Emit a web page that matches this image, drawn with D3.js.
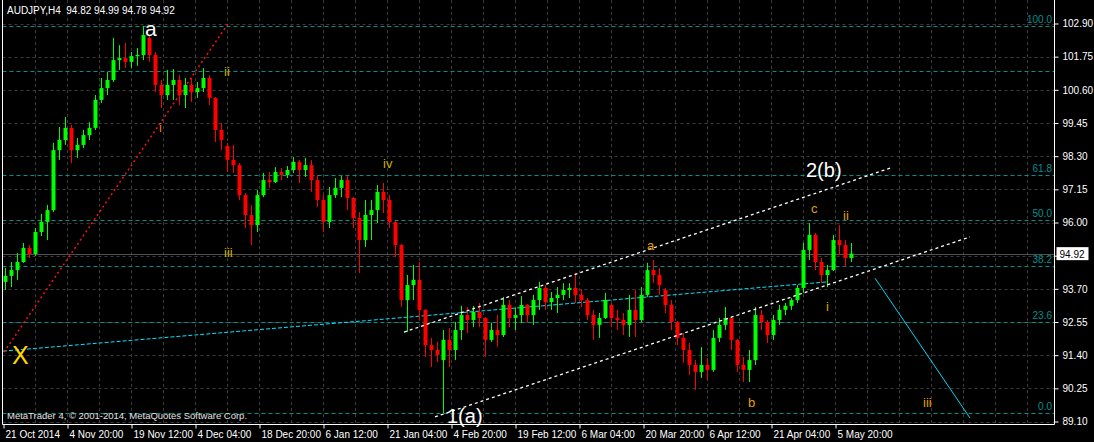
<!DOCTYPE html>
<html><head><meta charset="utf-8">
<script src="https://cdn.jsdelivr.net/npm/d3@7/dist/d3.min.js"></script>
<style>
html,body{margin:0;padding:0;background:#000;}
svg{display:block;}
text{font-family:"Liberation Sans",Arial,sans-serif;}
</style></head>
<body>
<svg id="c" width="1094" height="442"></svg>
<script>
// ---- DATA (one candle per trading day, 6 H4 bars) ----
const opens = [93.94,94.15,94.35,94.63,95.12,94.91,95.67,96.02,96.43,98.51,98.86,99.28,98.51,98.69,99.03,99.28,100.25,100.66,100.94,101.63,101.70,101.57,101.77,101.81,102.40,101.81,100.77,100.42,100.77,100.94,100.42,100.77,100.52,100.66,101.01,100.32,99.21,98.65,98.17,97.99,96.95,96.26,95.91,96.95,97.47,97.40,97.75,97.65,97.82,98.10,97.82,97.99,97.47,96.78,96.02,96.95,97.20,97.47,96.85,96.16,95.39,96.26,96.43,97.06,96.78,96.02,95.22,93.31,93.83,94.01,92.97,91.75,91.58,91.23,91.93,91.58,92.27,92.79,92.62,92.90,92.69,91.93,92.27,92.10,93.14,92.69,92.79,93.14,92.79,93.31,93.73,93.24,93.38,93.49,93.66,93.73,93.49,93.31,92.79,92.45,92.69,93.14,92.69,92.62,92.45,92.97,92.62,93.49,94.35,94.18,93.66,93.14,92.55,92.00,91.58,91.06,90.82,91.06,90.89,92.00,92.45,92.69,91.93,91.06,90.89,91.23,92.79,92.55,92.10,92.62,92.97,93.11,93.31,93.73,95.05,95.57,94.63,94.18,94.35,95.39,95.22,94.77];
const highs = [94.42,94.63,94.94,95.29,95.22,95.81,96.30,96.61,98.76,99.31,99.66,99.38,98.93,99.21,99.48,100.42,101.01,101.22,102.40,102.15,102.22,101.91,102.05,102.81,102.47,101.91,100.94,101.29,101.32,101.11,101.01,101.01,100.87,101.36,101.11,100.35,99.45,98.76,98.69,98.06,97.02,96.61,97.13,97.72,97.75,97.92,97.89,97.96,98.27,98.17,98.24,98.17,97.65,96.95,97.23,97.54,97.61,97.61,96.88,96.36,96.78,96.78,97.30,97.37,96.95,96.05,95.25,94.18,94.53,94.63,93.00,92.00,91.86,92.27,92.34,92.55,93.11,93.07,93.11,93.21,92.72,92.52,92.79,93.42,93.31,93.04,93.45,93.17,93.49,93.94,93.83,93.59,93.76,93.90,93.90,94.25,93.69,93.38,92.97,92.86,93.56,93.21,92.97,92.86,93.49,93.66,93.76,94.60,94.70,94.42,93.73,93.31,92.58,92.17,91.82,91.23,91.68,91.30,92.27,92.69,93.07,92.72,91.96,91.34,91.58,93.07,92.97,92.62,92.79,93.14,93.21,93.38,93.83,95.29,95.98,95.64,94.77,94.53,95.57,95.91,95.39,95.29];
const lows = [93.66,93.76,94.01,94.60,94.77,94.84,95.53,95.39,96.36,98.17,98.69,98.06,98.24,98.58,98.86,99.21,100.14,100.42,100.87,101.29,101.36,101.36,101.43,101.63,101.57,100.52,99.97,100.25,100.25,100.07,99.97,100.18,100.32,100.52,100.07,98.79,98.51,97.75,97.72,96.78,95.81,95.22,95.67,96.88,97.20,97.37,97.47,97.54,97.72,97.37,97.58,97.06,96.54,95.67,95.81,96.85,96.88,96.43,95.81,94.25,95.15,95.39,95.98,96.33,95.81,94.80,93.07,92.20,93.31,92.62,91.34,90.99,91.16,89.39,90.99,91.23,91.93,92.17,92.37,92.37,91.34,91.86,91.68,92.03,92.37,92.27,92.52,92.55,92.45,92.97,92.97,92.97,92.86,93.31,93.38,93.21,93.07,92.62,91.93,92.00,92.66,92.37,92.27,92.10,92.03,92.03,92.55,93.42,93.90,93.49,92.86,92.27,91.75,91.13,90.71,90.19,90.61,90.54,90.82,91.86,92.27,91.58,90.82,90.47,90.47,91.06,92.27,91.82,91.93,92.45,92.79,92.97,93.21,93.56,94.70,94.35,93.90,93.76,94.32,94.87,94.46,94.63];
const closes = [94.15,94.35,94.63,95.12,94.91,95.67,96.02,96.43,98.51,98.86,99.28,98.51,98.69,99.03,99.28,100.25,100.66,100.94,101.63,101.70,101.57,101.77,101.81,102.50,101.81,100.77,100.42,100.77,100.94,100.42,100.77,100.52,100.66,101.01,100.32,99.21,98.86,98.17,97.99,96.95,96.26,95.91,96.95,97.47,97.40,97.75,97.65,97.82,98.10,97.82,97.99,97.47,96.78,96.02,96.95,97.20,97.47,96.85,96.16,95.39,96.26,96.43,97.06,96.78,96.02,95.22,93.31,93.83,94.01,92.97,91.75,91.58,91.41,91.93,91.58,92.27,92.79,92.62,92.90,92.69,91.93,92.27,92.10,93.14,92.69,92.79,93.14,92.79,93.31,93.73,93.24,93.38,93.49,93.66,93.73,93.49,93.31,92.79,92.45,92.69,93.31,92.69,92.62,92.45,92.97,92.62,93.49,94.35,94.18,93.83,93.14,92.55,92.00,91.58,91.06,90.82,91.06,90.89,92.00,92.45,92.69,91.93,91.06,90.89,91.23,92.79,92.55,92.10,92.62,92.97,93.11,93.31,93.73,95.05,95.57,94.63,94.18,94.35,95.39,95.22,94.77,94.92];

// x-axis labels (every 64 H4 bars)
const timeLabels = ["21 Oct 2014","4 Nov 20:00","19 Nov 12:00","4 Dec 04:00","18 Dec 20:00","6 Jan 12:00","21 Jan 04:00","4 Feb 20:00","19 Feb 12:00","6 Mar 04:00","20 Mar 20:00","6 Apr 12:00","21 Apr 04:00","5 May 20:00"];
// price tick labels
const priceTicks = [89.10,90.25,91.40,92.55,93.70,94.85,96.00,97.15,98.30,99.45,100.60,101.75,102.90];
const hiddenTick = 94.85; // covered by the current-price marker
// Fibonacci retracement levels
const fibNames = ["100.0","61.8","50.0","38.2","23.6","0.0"];
const fibPrices = [102.81,97.66,96.07,94.49,92.56,89.40];
const extraLevel = 101.27;
const lastPrice = 94.92;
const title = "AUDJPY,H4  94.82 94.99 94.78 94.92";
const copyright = "MetaTrader 4, \u00A9 2001-2014, MetaQuotes Software Corp.";
// trend lines [barIndex, price] pairs
const redTrend = [[1,91.51],[225,102.89]];
const cyanTrend = [[0,91.54],[824,93.94]];
const chanUpper = [[401,92.20],[890,97.92]];
const chanLower = [[432,89.26],[967,95.50]];
const projLine = [[872,94.07],[967,89.22]];
// wave labels [text, barIndex, price, kind]
const waveLabels = [
 ["a",142,102.47,"big"],["i",156,99.14,"o"],["ii",221,101.08,"y"],["iii",221,94.80,"y"],["iv",380,97.89,"y"],
 ["a",644,95.05,"o2"],["b",745,89.60,"o2"],["c",808,96.33,"o2"],["ii",840,96.09,"o2"],["i",823,92.93,"o2"],["iii",920,89.60,"o2"],
 ["2(b)",803,97.58,"big2"],["1(a)",444,89.05,"big2"],["X",9,91.09,"X"]
];

// ---- DRAWING ----
const svg = d3.select("#c");
const W = 1094, H = 442;
const L = 2.5, R = 1054.5, B = 424.5;
svg.append("rect").attr("width",W).attr("height",H).attr("fill","#000");

const BARS_PER_CANDLE = 6;
const x = d3.scaleLinear().domain([0,1051]).range([3,1054]);
const y = d3.scaleLinear().domain([89.10,102.90]).range([421.5,23.5]);

const g = svg.append("g");
// grid
const gridColor = "#3a3a3a";
g.selectAll(".hg").data(priceTicks).join("line")
  .attr("x1",L).attr("x2",R).attr("y1",d=>Math.round(y(d))+0.5).attr("y2",d=>Math.round(y(d))+0.5)
  .attr("stroke",gridColor).attr("stroke-dasharray","3,3");
g.selectAll(".vg").data(d3.range(32,1051,32)).join("line")
  .attr("x1",d=>Math.round(x(d))+0.5).attr("x2",d=>Math.round(x(d))+0.5).attr("y1",0).attr("y2",B)
  .attr("stroke",gridColor).attr("stroke-dasharray","3,3");

// fib levels
const fibColor = "#009090";
g.selectAll(".fib").data(fibPrices.concat([extraLevel])).join("line")
  .attr("x1",L).attr("x2",R).attr("y1",d=>Math.round(y(d))+0.5).attr("y2",d=>Math.round(y(d))+0.5)
  .attr("stroke",fibColor).attr("stroke-dasharray","4,3");
g.selectAll(".fibt").data(fibNames).join("text")
  .attr("x",1052).attr("y",(d,i)=>Math.round(y(fibPrices[i]))-3)
  .attr("text-anchor","end").attr("font-size",10).attr("fill",fibColor).text(d=>d);

// current price line
g.append("line").attr("x1",L).attr("x2",R)
  .attr("y1",Math.round(y(lastPrice))+0.5).attr("y2",Math.round(y(lastPrice))+0.5)
  .attr("stroke","#505050");

// trend lines
const line = d3.line().x(d=>x(d[0])).y(d=>y(d[1]));
g.append("path").attr("d",line(cyanTrend)).attr("stroke","#00e5ff").attr("fill","none").attr("stroke-dasharray","4,2");
g.append("path").attr("d",line(redTrend)).attr("stroke","#ff1010").attr("stroke-width",1.5).attr("fill","none").attr("stroke-dasharray","2,3");

// candles
const candles = closes.map((c,i)=>({o:opens[i],h:highs[i],l:lows[i],c:c,i:i}));
const cg = g.append("g");
cg.selectAll(".w").data(candles).join("line")
  .attr("x1",d=>Math.floor(x(d.i*BARS_PER_CANDLE+2.5))+0.5)
  .attr("x2",d=>Math.floor(x(d.i*BARS_PER_CANDLE+2.5))+0.5)
  .attr("y1",d=>y(d.h)).attr("y2",d=>y(d.l))
  .attr("stroke",d=>d.c>=d.o?"#00ff00":"#ff0000");
cg.selectAll(".b").data(candles).join("rect")
  .attr("x",d=>x(d.i*BARS_PER_CANDLE+0.5)).attr("width",d=>x(d.i*BARS_PER_CANDLE+4.5)-x(d.i*BARS_PER_CANDLE+0.5))
  .attr("y",d=>y(Math.max(d.o,d.c))).attr("height",d=>Math.max(1,Math.abs(y(d.o)-y(d.c))))
  .attr("fill",d=>d.c>=d.o?"#00ff00":"#ff0000");

// channel + projection
g.append("path").attr("d",line(chanUpper)).attr("stroke","#ffffff").attr("stroke-width",1.3).attr("fill","none").attr("stroke-dasharray","3,3");
g.append("path").attr("d",line(chanLower)).attr("stroke","#ffffff").attr("stroke-width",1.3).attr("fill","none").attr("stroke-dasharray","3,3");
g.append("path").attr("d",line(projLine)).attr("stroke","#00d8f0").attr("fill","none");

// wave labels
const styles = {
  big:{size:21,fill:"#ffffff"},
  big2:{size:20,fill:"#ffffff"},
  X:{size:25,fill:"#ffd700"},
  y:{size:13,fill:"#c8b400"},
  o:{size:13,fill:"#e08a00"},
  o2:{size:13,fill:"#e0a000"}
};
g.selectAll(".wl").data(waveLabels).join("text")
  .attr("x",d=>x(d[1])).attr("y",d=>y(d[2]))
  .attr("font-size",d=>styles[d[3]].size).attr("fill",d=>styles[d[3]].fill)
  .text(d=>d[0]);

// header and copyright
svg.append("text").attr("x",7).attr("y",14).attr("font-size",10).attr("fill","#ffffff").style("white-space","pre").text(title);
svg.append("text").attr("x",7).attr("y",419).attr("font-size",9.5).attr("fill","#e0e0e0").text(copyright);

// frame
svg.append("path").attr("d",`M${L},0V${B}H${R}V0`).attr("stroke","#ffffff").attr("fill","none");

// axes
const xAxis = d3.axisBottom(x).tickValues(d3.range(0,timeLabels.length*64,64))
  .tickFormat((d,i)=>timeLabels[i]).tickSize(4).tickPadding(2);
const ax = svg.append("g").attr("transform",`translate(0,${B})`).call(xAxis);
ax.select(".domain").remove();
ax.selectAll("line").attr("stroke","#ffffff").attr("transform","translate(0.5,0)");
ax.selectAll("text").attr("fill","#ffffff").attr("font-size",10).attr("text-anchor","start").attr("dx",2)
  .attr("font-family","Liberation Sans, Arial, sans-serif");

const yAxis = d3.axisRight(y).tickValues(priceTicks).tickFormat(d3.format(".2f")).tickSize(4).tickPadding(4);
const ay = svg.append("g").attr("transform",`translate(${R},0)`).call(yAxis);
ay.select(".domain").remove();
ay.selectAll("line").attr("stroke","#ffffff");
ay.selectAll("text").attr("fill","#ffffff").attr("font-size",10).attr("font-family","Liberation Sans, Arial, sans-serif");
ay.selectAll(".tick").filter(d=>d===hiddenTick).select("text").remove();

// current price box
const py = y(lastPrice);
svg.append("rect").attr("x",R+2).attr("y",py-6.5).attr("width",32).attr("height",13).attr("fill","#ffffff");
svg.append("text").attr("x",R+5).attr("y",py+4).attr("font-size",10).attr("fill","#000").text(lastPrice.toFixed(2));
</script>
</body></html>
